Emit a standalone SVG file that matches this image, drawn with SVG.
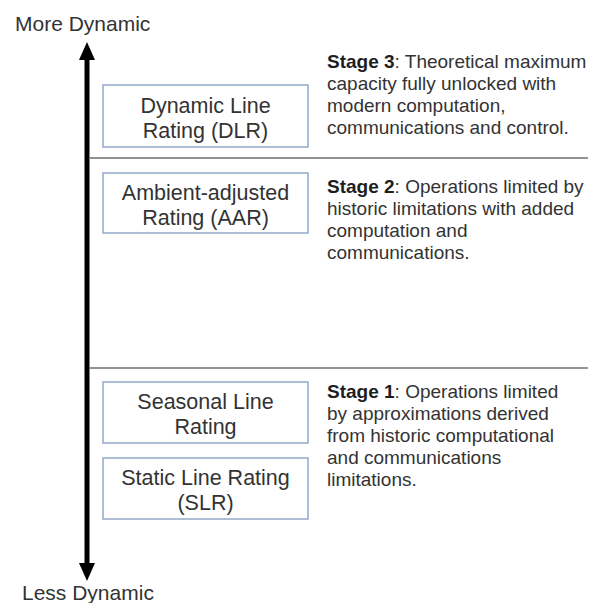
<svg xmlns="http://www.w3.org/2000/svg" width="592" height="603" viewBox="0 0 592 603">
<style>
.t{font-family:"Liberation Sans",Arial,sans-serif;fill:#333333}
.axis{font-size:21px}
.box rect{fill:#ffffff;stroke:#94a9c9;stroke-width:1.5}
.box text{font-size:21.5px;text-anchor:middle}
.desc{font-size:19px}
.desc tspan.b{font-weight:bold;fill:#1e1e1e}
.sep{stroke:#6e6e6e;stroke-width:1.5}
</style>
<defs>
<marker id="ah" viewBox="0 0 18 16" refX="2" refY="8" markerWidth="18" markerHeight="16" markerUnits="userSpaceOnUse" orient="auto">
<path d="M0,0 L18,8 L0,16 Z" fill="#000"/>
</marker>
</defs>
<rect width="592" height="603" fill="#ffffff"/>
<text class="t axis" x="15" y="31">More Dynamic</text>
<text class="t axis" x="22" y="600">Less Dynamic</text>
<g id="connectors">
<line x1="87" y1="300" x2="87" y2="58" stroke="#000" stroke-width="5" marker-end="url(#ah)"/>
<line x1="87" y1="300" x2="87" y2="565" stroke="#000" stroke-width="5" marker-end="url(#ah)"/>
<line class="sep" x1="90" y1="158" x2="588" y2="158"/>
<line class="sep" x1="90" y1="368" x2="588" y2="368"/>
</g>
<g id="dlr" class="box">
<rect x="103" y="85" width="205" height="62"/>
<text class="t" x="205.5" y="113">Dynamic Line</text>
<text class="t" x="205.5" y="138">Rating (DLR)</text>
</g>
<g id="aar" class="box">
<rect x="103" y="173" width="205" height="60"/>
<text class="t" x="205.5" y="200">Ambient-adjusted</text>
<text class="t" x="205.5" y="225">Rating (AAR)</text>
</g>
<g id="seasonal" class="box">
<rect x="103" y="382" width="205" height="61"/>
<text class="t" x="205.5" y="409">Seasonal Line</text>
<text class="t" x="205.5" y="434">Rating</text>
</g>
<g id="slr" class="box">
<rect x="103" y="458" width="205" height="61"/>
<text class="t" x="205.5" y="485">Static Line Rating</text>
<text class="t" x="205.5" y="510">(SLR)</text>
</g>
<g id="stage3">
<text class="t desc" x="327" y="68"><tspan class="b">Stage 3</tspan>: Theoretical maximum</text>
<text class="t desc" x="327" y="90">capacity fully unlocked with</text>
<text class="t desc" x="327" y="112">modern computation,</text>
<text class="t desc" x="327" y="134">communications and control.</text>
</g>
<g id="stage2">
<text class="t desc" x="327" y="193"><tspan class="b">Stage 2</tspan>: Operations limited by</text>
<text class="t desc" x="327" y="215">historic limitations with added</text>
<text class="t desc" x="327" y="237">computation and</text>
<text class="t desc" x="327" y="259">communications.</text>
</g>
<g id="stage1">
<text class="t desc" x="327" y="398"><tspan class="b">Stage 1</tspan>: Operations limited</text>
<text class="t desc" x="327" y="420">by approximations derived</text>
<text class="t desc" x="327" y="442">from historic computational</text>
<text class="t desc" x="327" y="464">and communications</text>
<text class="t desc" x="327" y="486">limitations.</text>
</g>
</svg>
